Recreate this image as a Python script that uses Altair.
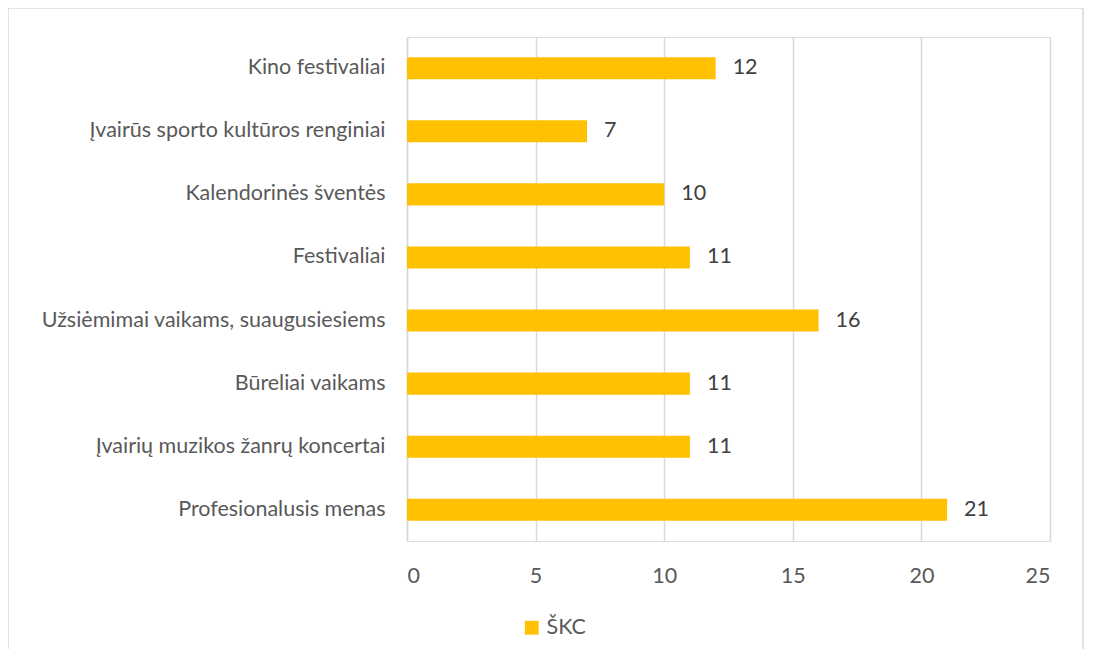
import altair as alt
import pandas as pd

categories = [
    "Kino festivaliai",
    "Įvairūs sporto kultūros renginiai",
    "Kalendorinės šventės",
    "Festivaliai",
    "Užsiėmimai vaikams, suaugusiesiems",
    "Būreliai vaikams",
    "Įvairių muzikos žanrų koncertai",
    "Profesionalusis menas",
]
values = [12, 7, 10, 11, 16, 11, 11, 21]
series = ["ŠKC"] * len(categories)
x_ticks = [0, 5, 10, 15, 20, 25]

df = pd.DataFrame({"cat": categories, "val": values, "series": series})

FONT = "Lato"
FS = 21.5

base = alt.Chart(df)

bars = base.mark_bar(color="#FFC000").encode(
    y=alt.Y("cat:N", sort=categories,
            scale=alt.Scale(paddingInner=0.65, paddingOuter=0.32),
            axis=alt.Axis(title=None, labelFontSize=FS, labelColor="#595959",
                          labelFont=FONT, labelPadding=22, ticks=False,
                          domainColor="#d9d9d9", domainWidth=1.5, grid=False,
                          labelLimit=400)),
    x=alt.X("val:Q", scale=alt.Scale(domain=[0, 25], nice=False),
            axis=alt.Axis(title=None, values=x_ticks, labelFontSize=FS,
                          labelColor="#595959", labelFont=FONT, ticks=False,
                          domain=False, labelPadding=24, gridColor="#d9d9d9",
                          gridWidth=1.5)),
    color=alt.Color("series:N", scale=alt.Scale(range=["#FFC000"]),
                    legend=alt.Legend(title=None, orient="none", legendX=114,
                                      legendY=580, symbolType="square",
                                      symbolSize=190, symbolStrokeWidth=0,
                                      labelFontSize=FS, labelFont=FONT,
                                      labelColor="#595959", labelOffset=4)),
)

labels = base.mark_text(align="left", dx=17, fontSize=FS, font=FONT,
                        color="#404040").encode(
    y=alt.Y("cat:N", sort=categories),
    x="val:Q",
    text="val:Q",
)

border = alt.Chart(pd.DataFrame({"a": [0]})).mark_rect(
    fill=None, stroke="#d9d9d9", strokeWidth=1.5
).encode(
    x=alt.value(-399), x2=alt.value(676), y=alt.value(-29), y2=alt.value(680)
)

chart = alt.layer(border, bars, labels).properties(
    width=643, height=504,
    autosize=alt.AutoSizeParams(type="none"),
    padding={"left": 399, "top": 29, "right": 35, "bottom": 108},
).configure_view(stroke=None).configure(background="white")

chart.save("out.html", embed_options={"renderer": "svg", "actions": False})
